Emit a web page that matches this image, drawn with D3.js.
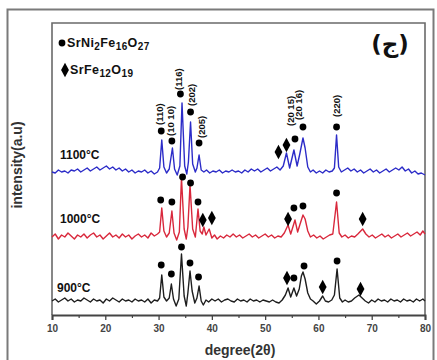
<!DOCTYPE html>
<html><head><meta charset="utf-8">
<script src="https://cdn.jsdelivr.net/npm/d3@7"></script>
<style>body{margin:0;background:#fff}svg{display:block}</style>
</head><body>
<svg id="c" width="437" height="360"></svg>
<script>
// ---- data ----
const xTicks=[10,20,30,40,50,60,70,80];
const xMinor=[15,25,35,45,55,65,75];
const seriesNames=["900°C","1000°C","1100°C"];
const seriesOffsets=[14,78,143];
const seriesColors=["#1e1e1e","#d9283c","#2c2cc8"];

const s900=[[10,0],[10.6,2],[11.2,-1],[11.8,1],[12.4,3],[13,0],[13.6,2],[14.2,-1],[14.8,1],[15.4,0],[16,3],[16.6,1],[17.2,-1],[17.8,2],[18.4,0],[19,1],[19.6,-2],[20.2,2],[20.8,0],[21.4,3],[22,1],[22.6,-1],[23.2,2],[23.8,0],[24.4,1],[25,-1],[25.6,2],[26.2,0],[26.8,1],[27.4,-1],[28,2],[28.6,-2],[29.2,1],[29.8,0],[30.2,3],[30.6,26],[31,4],[31.5,0],[32,3],[32.4,17],[32.8,2],[33.3,-5],[33.8,2],[34.3,47],[34.8,5],[35.2,-5],[35.5,8],[35.9,30],[36.3,10],[36.8,-2],[37.2,3],[37.6,15],[38,0],[38.4,-4],[38.9,1],[39.4,-1],[40,2],[40.6,0],[41.2,2],[41.8,-1],[42.4,1],[43,2],[43.6,0],[44.2,-1],[44.8,2],[45.4,0],[46,1],[46.6,-1],[47.2,2],[47.8,0],[48.4,1],[49,-1],[49.6,1],[50.2,0],[50.8,-1],[51.4,1],[52,-1],[52.6,-2],[53.2,1],[53.8,6],[54.3,13],[54.8,4],[55.4,13],[55.9,5],[56.4,12],[56.8,25],[57.1,29],[57.5,22],[58,8],[58.5,2],[59,0],[59.6,-3],[60.2,0],[60.8,5],[61.3,0],[61.9,-1],[62.5,1],[63,6],[63.5,32],[64,3],[64.5,-1],[65,1],[65.6,-1],[66.2,0],[66.8,3],[67.6,6],[68.2,3],[68.8,0],[69.4,-2],[70,1],[70.6,-1],[71.2,2],[71.8,0],[72.4,1],[73,-1],[73.6,2],[74.2,0],[74.8,1],[75.4,-1],[76,2],[76.6,0],[77.2,1],[77.8,-1],[78.4,2],[79,0],[79.6,2],[80,0]];

const s1000=[[10,0],[10.6,3],[11.2,-2],[11.8,2],[12.4,0],[13,4],[13.6,1],[14.2,-2],[14.8,2],[15.4,0],[16,3],[16.6,-1],[17.2,2],[17.8,4],[18.4,0],[19,2],[19.6,-2],[20.2,1],[20.8,4],[21.4,0],[22,2],[22.6,-1],[23.2,3],[23.8,0],[24.4,2],[25,-2],[25.6,1],[26.2,3],[26.8,0],[27.4,2],[28,-1],[28.6,4],[29.2,1],[29.8,3],[30.2,5],[30.6,29],[31,6],[31.5,0],[32,4],[32.5,26],[32.9,4],[33.4,-3],[33.9,5],[34.3,59],[34.8,8],[35.2,-2],[35.5,10],[35.9,52],[36.4,8],[36.9,0],[37.4,28],[37.8,6],[38.2,3],[38.5,10],[38.9,2],[39.5,8],[40,-1],[40.5,2],[41,-2],[41.6,1],[42.2,-1],[42.8,2],[43.4,0],[44,3],[44.6,0],[45.2,2],[45.8,-1],[46.4,1],[47,3],[47.6,0],[48.2,2],[48.8,-1],[49.4,1],[50,3],[50.6,0],[51.2,2],[51.8,-1],[52.4,1],[53,0],[53.6,4],[54.3,12],[54.8,3],[55.6,17],[56.1,5],[56.5,12],[57.1,22],[57.5,18],[58,6],[58.5,0],[59.1,2],[59.7,-1],[60.3,1],[60.9,-2],[61.5,0],[62.1,2],[62.7,3],[63.4,35],[63.9,4],[64.4,0],[65,2],[65.6,-1],[66.2,1],[66.8,0],[67.4,3],[68.3,8],[68.9,3],[69.5,0],[70.1,2],[70.7,-1],[71.3,1],[71.9,3],[72.5,0],[73.1,2],[73.7,-1],[74.3,1],[74.9,3],[75.5,0],[76.1,2],[76.7,4],[77.3,1],[77.9,3],[78.5,5],[79.1,2],[79.6,6],[80,3]];

const s1100=[[10,0],[10.6,-1],[11.2,2],[11.8,0],[12.4,1],[13,-1],[13.6,2],[14.2,1],[14.8,3],[15.4,0],[16,2],[16.6,4],[17.2,1],[17.8,3],[18.4,5],[19,2],[19.6,4],[20.2,6],[20.8,3],[21.4,5],[22,2],[22.6,4],[23.2,1],[23.8,3],[24.4,0],[25,2],[25.6,-1],[26.2,1],[26.8,0],[27.4,2],[28,-1],[28.6,1],[29.2,-2],[29.8,0],[30.2,4],[30.6,32],[31,5],[31.5,-1],[32,3],[32.6,24],[33,3],[33.5,-3],[34,6],[34.4,69],[34.9,6],[35.3,-2],[35.6,10],[36,50],[36.4,8],[36.9,0],[37.2,4],[37.6,17],[38,2],[38.5,0],[39,2],[39.6,-1],[40.2,1],[40.8,0],[41.4,2],[42,-1],[42.6,1],[43.2,0],[43.8,2],[44.4,0],[45,1],[45.6,-1],[46.2,2],[46.8,0],[47.4,3],[48,1],[48.6,3],[49.2,0],[49.8,2],[50.4,4],[51,1],[51.6,3],[52.2,5],[52.8,2],[53.4,6],[54,19],[54.6,4],[55.4,22],[56,6],[56.5,18],[57.1,34],[57.5,24],[58,5],[58.5,0],[59,2],[59.6,-1],[60.2,1],[60.8,-1],[61.4,2],[62,0],[62.6,1],[63,4],[63.4,37],[63.8,5],[64.3,0],[64.9,2],[65.5,4],[66.1,1],[66.7,3],[67.3,0],[67.9,2],[68.5,-1],[69.1,1],[69.7,3],[70.3,0],[70.9,2],[71.5,-1],[72.1,1],[72.7,3],[73.3,0],[73.9,2],[74.5,4],[75.1,2],[75.7,5],[76.3,1],[76.9,3],[77.5,-1],[78.1,1],[78.7,-2],[79.3,-1],[80,-3]];

// markers: [degree, height above baseline, type c=circle d=diamond]
const m900=[[30.5,36,"c"],[32.4,27,"c"],[34.3,54,"c"],[35.9,38,"c"],[37.5,24,"c"],[54.1,23,"d"],[55.4,23,"c"],[57.3,35,"c"],[60.8,14,"d"],[63.5,40,"c"],[67.9,12,"d"]];
const m1000=[[30.4,37,"c"],[32.5,35,"c"],[34.5,60,"c"],[36.0,54,"c"],[37.4,35,"c"],[38.3,17,"d"],[40.0,19,"d"],[54.3,18,"d"],[55.4,29,"c"],[57.1,31,"c"],[63.4,44,"c"],[68.3,18,"d"]];
const m1100=[[30.5,41,"c"],[32.5,31,"c"],[34.1,78,"c"],[36.0,60,"c"],[37.6,29,"c"],[52.5,20,"d"],[54.0,27,"d"],[55.6,33,"c"],[57.1,45,"c"],[63.4,45,"c"]];

// peak index labels: [text, degree, intensity at label start]
const hklText=["(110)","(10 10)","(116)","(202)","(205)","(20 15)","(20 16)","(220)"];
const hklDeg=[30.3,32.3,33.7,36.3,38.0,54.8,56.2,63.5];
const hklVal=[190,179,225,209,177,189,195,198];

const allSeries=[s900,s1000,s1100];
const allMarkers=[m900,m1000,m1100];

// ---- layout ----
const svg=d3.select("#c");
const L=52,R=425,T=23,B=315;
const x=d3.scaleLinear().domain([10,80]).range([L,R]);
const y=d3.scaleLinear().domain([0,292]).range([B,T]);

// outer frame
svg.append("rect").attr("x",7.5).attr("y",9.5).attr("width",426).attr("height",360)
  .attr("fill","none").attr("stroke","#7a7a7a").attr("stroke-width",2);

// plot frame
svg.append("path").attr("d",`M${L},${B}V${T}H${R}V${B}`).attr("fill","none")
  .attr("stroke","#6a6a6a").attr("stroke-width",1.6);

// axis
const ax=svg.append("g").attr("transform",`translate(0,${B})`)
  .call(d3.axisBottom(x).tickValues(xTicks).tickFormat(d3.format("d")).tickSize(5).tickPadding(5));
ax.select(".domain").attr("stroke","#444").attr("stroke-width",2);
ax.selectAll(".tick line").attr("stroke","#444").attr("stroke-width",1.3);
ax.selectAll(".tick text").attr("font-family","Liberation Sans, Arial, sans-serif")
  .attr("font-weight","bold").attr("font-size",10).attr("fill","#444");
svg.append("g").attr("transform",`translate(0,${B})`)
  .call(d3.axisBottom(x).tickValues(xMinor).tickFormat("").tickSize(3))
  .call(g=>g.select(".domain").remove())
  .selectAll(".tick line").attr("stroke","#444").attr("stroke-width",1.2);

// titles
svg.append("text").attr("x",240).attr("y",355).attr("text-anchor","middle")
  .attr("font-family","Liberation Sans, Arial, sans-serif").attr("font-weight","bold")
  .attr("font-size",14).attr("fill","#333").text("degree(2θ)");
svg.append("text").attr("transform","translate(22,165) rotate(-90)").attr("text-anchor","middle")
  .attr("font-family","Liberation Sans, Arial, sans-serif").attr("font-weight","bold")
  .attr("font-size",14).attr("fill","#333").text("intensity(a.u)");

// traces
const line=d3.line().x(d=>x(d[0])).y(d=>y(d[1]));
allSeries.forEach((s,i)=>{
  const off=seriesOffsets[i];
  svg.append("path").datum(s.map(d=>[d[0],d[1]+off]))
    .attr("d",line).attr("fill","none").attr("stroke",seriesColors[i])
    .attr("stroke-width",1.4).attr("stroke-linejoin","round");
});

// markers
const diamond=d3.symbol().type(d3.symbolDiamond).size(34);
allMarkers.forEach((ms,i)=>{
  const off=seriesOffsets[i];
  ms.forEach(m=>{
    const px=x(m[0]),py=y(m[1]+off);
    if(m[2]==="c") svg.append("circle").attr("cx",px).attr("cy",py).attr("r",3.4).attr("fill","#000");
    else svg.append("path").attr("d",diamond).attr("transform",`translate(${px},${py}) scale(1.25,1.35)`).attr("fill","#000");
  });
});

// series labels
const lblPos=[[57,292],[60,223],[60,159]];
seriesNames.forEach((n,i)=>{
  svg.append("text").attr("x",lblPos[i][0]).attr("y",lblPos[i][1])
    .attr("font-family","Liberation Sans, Arial, sans-serif").attr("font-weight","bold")
    .attr("font-size",12).attr("fill","#111").text(n);
});

// hkl labels
hklText.forEach((t,i)=>{
  const px=x(hklDeg[i]),py=y(hklVal[i]);
  svg.append("text").attr("transform",`translate(${px},${py}) rotate(-90)`)
    .attr("dy","0.35em").attr("text-anchor","start")
    .attr("font-family","Liberation Sans, Arial, sans-serif").attr("font-weight","bold")
    .attr("font-size",9.5).attr("fill","#111").text(t);
});

// legend
function chem(xp,yp,parts){
  const t=svg.append("text").attr("x",xp).attr("y",yp)
    .attr("font-family","Liberation Sans, Arial, sans-serif").attr("font-weight","bold")
    .attr("font-size",12.5).attr("fill","#111").attr("letter-spacing",0.4);
  parts.forEach(p=>{
    if(p[1]) t.append("tspan").attr("font-size",10).attr("dy",3).text(p[0]);
    else t.append("tspan").attr("dy",p[2]||0).text(p[0]);
  });
}
svg.append("circle").attr("cx",62).attr("cy",43).attr("r",3.4).attr("fill","#000");
chem(67,47,[["SrNi"],["2",1],["Fe",0,-3],["16",1],["O",0,-3],["27",1]]);
svg.append("path").attr("d",diamond).attr("transform","translate(65,70) scale(1.25,1.35)").attr("fill","#000");
chem(70,74,[["SrFe"],["12",1],["O",0,-3],["19",1]]);

// panel tag
svg.append("text").attr("x",390).attr("y",52).attr("text-anchor","middle")
  .attr("font-family","DejaVu Sans, sans-serif").attr("font-weight","bold")
  .attr("font-size",23).attr("fill","#111").text("(ج)");
</script>
</body></html>
